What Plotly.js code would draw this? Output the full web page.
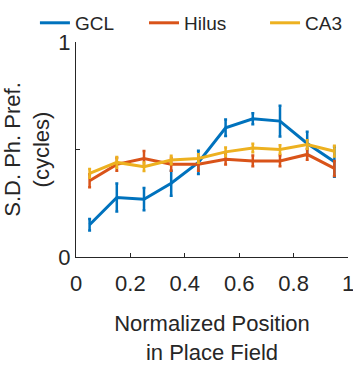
<!DOCTYPE html>
<html>
<head>
<meta charset="utf-8">
<script src="https://cdn.plot.ly/plotly-3.0.1.min.js"></script>
<style>html,body{margin:0;padding:0;background:#fff;}#chart{width:353px;height:368px;}</style>
</head>
<body>
<div id="chart"></div>
<script>
const positions = [0.05, 0.15, 0.25, 0.35, 0.45, 0.55, 0.65, 0.75, 0.85, 0.95];
const gcl = [0.150, 0.277, 0.269, 0.343, 0.440, 0.601, 0.643, 0.632, 0.528, 0.443];
const gclErr = [0.027, 0.065, 0.052, 0.058, 0.054, 0.038, 0.026, 0.072, 0.055, 0.070];
const hilus = [0.355, 0.431, 0.458, 0.431, 0.431, 0.455, 0.447, 0.447, 0.477, 0.412];
const hilusErr = [0.030, 0.030, 0.035, 0.030, 0.030, 0.025, 0.025, 0.025, 0.025, 0.035];
const ca3 = [0.389, 0.440, 0.420, 0.451, 0.458, 0.489, 0.507, 0.500, 0.523, 0.492];
const ca3Err = [0.020, 0.025, 0.020, 0.020, 0.020, 0.020, 0.020, 0.020, 0.020, 0.025];
const seriesNames = ['GCL', 'Hilus', 'CA3'];
const colors = ['#0072BD', '#D95319', '#EDB120'];
const xTicks = [0, 0.2, 0.4, 0.6, 0.8, 1];
const xTickText = ['0', '0.2', '0.4', '0.6', '0.8', '1'];
const yTicks = [0, 0.5, 1];
const yTickText = ['0', '', '1'];

const ys = [gcl, hilus, ca3];
const errs = [gclErr, hilusErr, ca3Err];
const legendIds = ['legend', 'legend2', 'legend3'];
const traces = ys.map((y, i) => ({
  type: 'scatter', mode: 'lines', name: seriesNames[i], legend: legendIds[i],
  x: positions, y: y,
  line: {color: colors[i], width: 3},
  error_y: {type: 'data', array: errs[i], visible: true, color: colors[i], thickness: 2.5, width: 1.5}
}));

const fnt = {family: 'Liberation Sans, Arial, sans-serif', size: 22, color: '#262626'};
const legFnt = {family: 'Liberation Sans, Arial, sans-serif', size: 19, color: '#262626'};
const legBase = {orientation: 'h', y: 1.177, xanchor: 'left', yanchor: 'top', font: legFnt,
                 itemwidth: 30, bgcolor: 'rgba(0,0,0,0)', borderwidth: 0};
const layout = {
  width: 353, height: 368,
  margin: {l: 76, r: 5, t: 42, b: 111, autoexpand: false},
  paper_bgcolor: '#fff', plot_bgcolor: '#fff',
  font: fnt,
  showlegend: true,
  legend: Object.assign({}, legBase, {x: -0.151}),
  legend2: Object.assign({}, legBase, {x: 0.25}),
  legend3: Object.assign({}, legBase, {x: 0.695}),
  xaxis: {range: [0, 1], tickvals: xTicks, ticktext: xTickText, ticks: 'inside', ticklen: 4, tickwidth: 1.2,
          tickcolor: '#262626', showline: true, linecolor: '#262626', linewidth: 1.2, showgrid: false, zeroline: false,
          tickfont: fnt, ticklabelstandoff: 6, ticklabeloverflow: 'allow',
          title: {text: 'Normalized Position<br>in Place Field', font: fnt, standoff: 21}},
  yaxis: {range: [0, 1], tickvals: yTicks, ticktext: yTickText, ticks: 'inside', ticklen: 4, tickwidth: 1.2,
          tickcolor: '#262626', showline: true, linecolor: '#262626', linewidth: 1.2, showgrid: false, zeroline: false,
          tickfont: fnt, ticklabeloverflow: 'allow',
          title: {text: 'S.D. Ph. Pref.<br>(cycles)', font: fnt, standoff: 2}}
};
Plotly.newPlot('chart', traces, layout, {displayModeBar: false, staticPlot: true});
</script>
</body>
</html>
